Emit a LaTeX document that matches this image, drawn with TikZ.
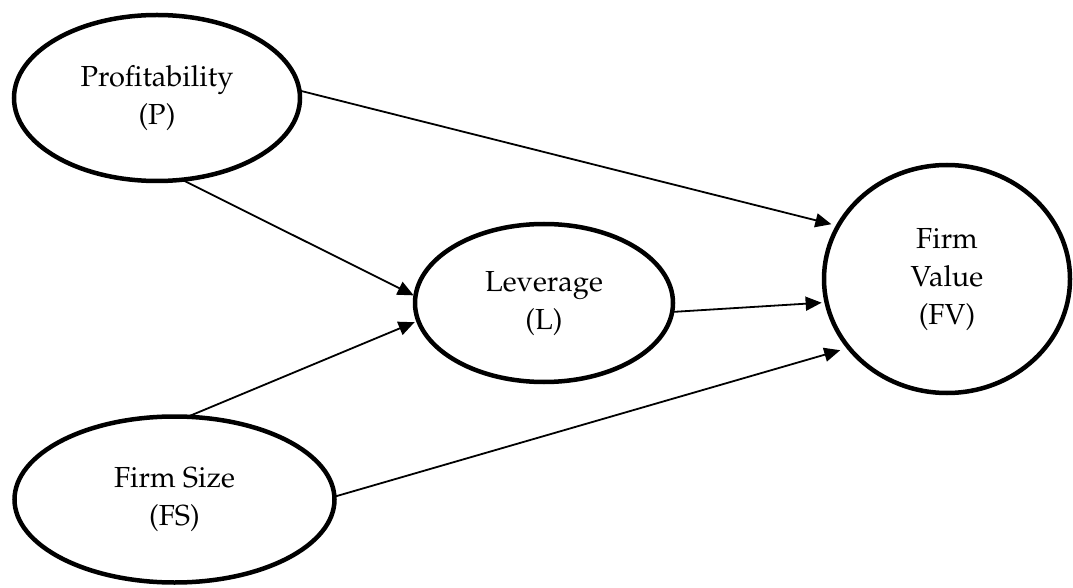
\documentclass[tikz,border=0pt]{standalone}
\usepackage[T1]{fontenc}
\usepackage{mathpazo}
\usetikzlibrary{shapes.geometric,arrows.meta}
\begin{document}
\begin{tikzpicture}[x=1pt,y=1pt,
  var/.style={ellipse,draw,line width=4.5pt,inner sep=0pt,outer sep=0pt,align=center,
    font=\fontsize{29}{38}\selectfont},
  link/.style={line width=1.8pt,-{Triangle[length=16pt,width=14pt]}}]
\useasboundingbox (0,0) rectangle (1073,587);
\node[var,minimum width=286pt,minimum height=166pt] (P) at (157,489) {Profitability\\(P)};
\node[var,minimum width=258pt,minimum height=158pt] (L) at (544,284) {Leverage\\(L)};
\node[var,minimum width=246pt,minimum height=228pt] (FV) at (947,308) {Firm\\Value\\(FV)};
\node[var,minimum width=320pt,minimum height=166pt] (FS) at (174.5,87.5) {Firm Size\\(FS)};
\draw[link,shorten >=7pt] (P.3) -- (FV.154);
\draw[link,shorten >=2pt] (P.-73) -- (L.177);
\draw[link,shorten >=4pt] (FS.81) -- (L.188);
\draw[link,shorten >=5pt] (L.-4) -- (FV.191);
\draw[link,shorten >=9pt] (FS.1) -- (FV.215);
\end{tikzpicture}
\end{document}
